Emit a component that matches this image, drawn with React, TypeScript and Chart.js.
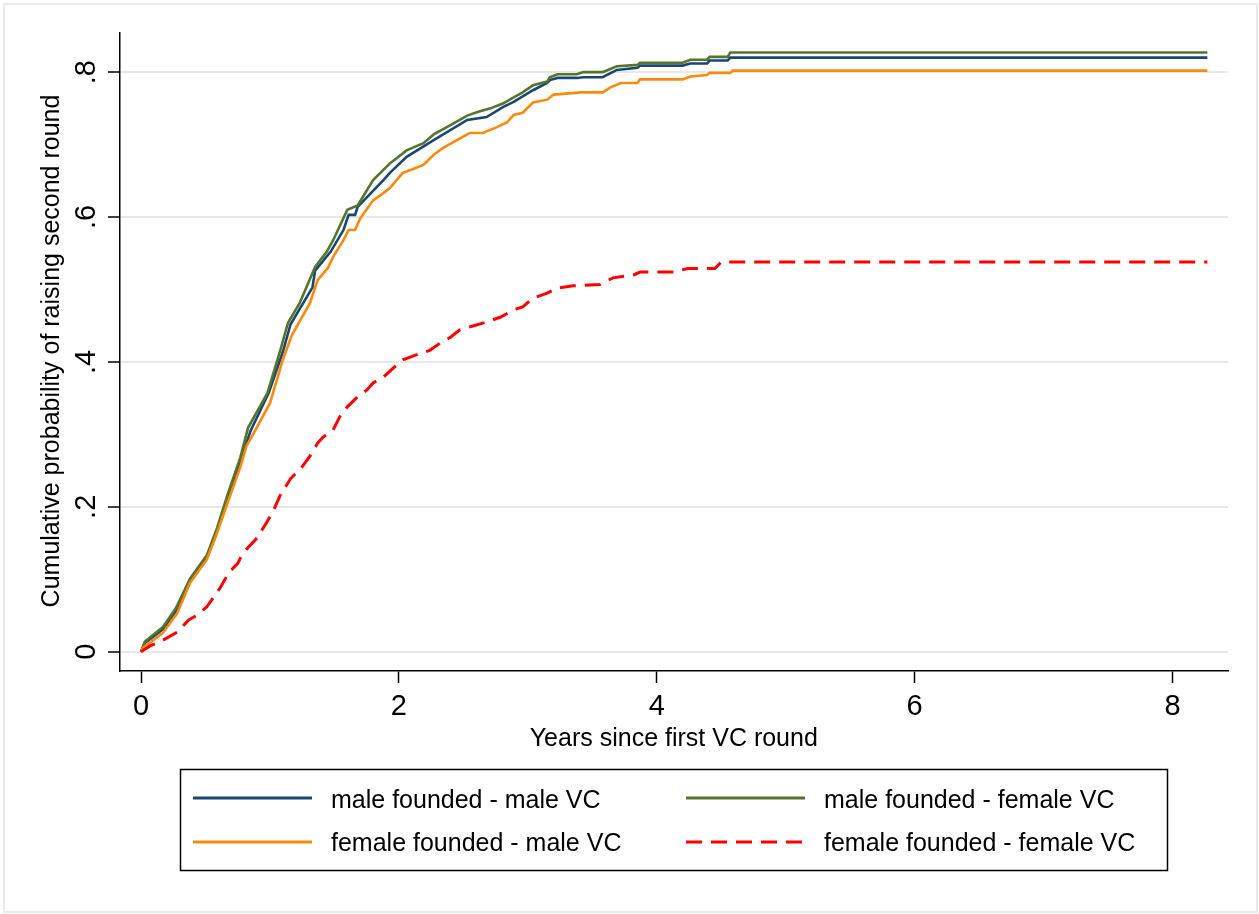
import React, { useEffect, useRef } from "react";
import { Chart, registerables } from "chart.js";

Chart.register(...registerables);

// ---- data ----
const X_TICKS = [0, 2, 4, 6, 8];
const X_TICK_LABELS = ["0", "2", "4", "6", "8"];
const Y_TICKS = [0, 0.2, 0.4, 0.6, 0.8];
const Y_TICK_LABELS = ["0", ".2", ".4", ".6", ".8"];

const X_TITLE = "Years since first VC round";
const Y_TITLE = "Cumulative probability of raising second round";

const SERIES_NAMES = [
  "male founded - male VC",
  "male founded - female VC",
  "female founded - male VC",
  "female founded - female VC",
];

const mmYears = [0, 0.03, 0.17, 0.27, 0.38, 0.51, 0.59, 0.67, 0.77, 0.85, 0.99, 1.10, 1.16, 1.33, 1.35, 1.47, 1.57, 1.61, 1.66, 1.68, 1.88, 1.93, 2.06, 2.27, 2.53, 2.68, 2.81, 2.89, 3.04, 3.15, 3.17, 3.23, 3.38, 3.43, 3.58, 3.69, 3.85, 3.87, 4.20, 4.26, 4.39, 4.41, 4.55, 4.57, 8.27];
const mmProb = [0, 0.012, 0.031, 0.056, 0.097, 0.129, 0.166, 0.211, 0.263, 0.305, 0.357, 0.414, 0.452, 0.503, 0.526, 0.552, 0.582, 0.603, 0.603, 0.614, 0.651, 0.661, 0.683, 0.706, 0.734, 0.738, 0.752, 0.759, 0.775, 0.785, 0.789, 0.792, 0.792, 0.793, 0.793, 0.803, 0.806, 0.809, 0.809, 0.812, 0.812, 0.816, 0.816, 0.820, 0.820];

const mfYears = [0, 0.03, 0.17, 0.27, 0.38, 0.51, 0.59, 0.67, 0.77, 0.83, 0.98, 1.08, 1.14, 1.23, 1.35, 1.44, 1.49, 1.60, 1.68, 1.80, 1.93, 2.06, 2.19, 2.27, 2.40, 2.53, 2.61, 2.71, 2.81, 2.89, 2.96, 3.04, 3.15, 3.17, 3.23, 3.38, 3.43, 3.58, 3.69, 3.85, 3.87, 4.20, 4.26, 4.39, 4.41, 4.55, 4.57, 8.27];
const mfProb = [0, 0.014, 0.034, 0.060, 0.101, 0.133, 0.171, 0.216, 0.268, 0.309, 0.357, 0.416, 0.454, 0.481, 0.531, 0.552, 0.568, 0.610, 0.616, 0.651, 0.674, 0.692, 0.702, 0.714, 0.727, 0.740, 0.745, 0.750, 0.757, 0.765, 0.772, 0.782, 0.787, 0.793, 0.797, 0.797, 0.800, 0.800, 0.808, 0.810, 0.813, 0.813, 0.817, 0.817, 0.821, 0.821, 0.827, 0.827];

const fmYears = [0, 0.02, 0.17, 0.28, 0.38, 0.51, 0.59, 0.67, 0.77, 0.82, 0.86, 1.00, 1.10, 1.17, 1.31, 1.37, 1.45, 1.49, 1.57, 1.61, 1.66, 1.70, 1.80, 1.88, 1.93, 2.03, 2.09, 2.19, 2.27, 2.34, 2.45, 2.55, 2.65, 2.76, 2.84, 2.89, 2.96, 3.04, 3.15, 3.20, 3.35, 3.41, 3.58, 3.64, 3.72, 3.85, 3.87, 4.20, 4.26, 4.39, 4.41, 4.57, 4.59, 8.27];
const fmProb = [0, 0.006, 0.026, 0.053, 0.095, 0.127, 0.164, 0.205, 0.255, 0.285, 0.297, 0.343, 0.403, 0.437, 0.481, 0.513, 0.530, 0.545, 0.568, 0.582, 0.582, 0.598, 0.623, 0.633, 0.640, 0.661, 0.665, 0.672, 0.686, 0.695, 0.706, 0.716, 0.716, 0.724, 0.731, 0.741, 0.744, 0.758, 0.762, 0.769, 0.771, 0.772, 0.772, 0.779, 0.785, 0.785, 0.790, 0.790, 0.794, 0.796, 0.799, 0.799, 0.802, 0.802];

const ffYears = [0, 0.07, 0.17, 0.28, 0.37, 0.44, 0.51, 0.55, 0.62, 0.68, 0.75, 0.79, 0.90, 0.98, 1.03, 1.08, 1.16, 1.24, 1.31, 1.37, 1.41, 1.49, 1.54, 1.60, 1.68, 1.75, 1.80, 1.88, 1.96, 2.03, 2.14, 2.24, 2.32, 2.40, 2.47, 2.58, 2.68, 2.79, 2.89, 2.96, 3.04, 3.15, 3.23, 3.35, 3.56, 3.66, 3.82, 3.87, 4.13, 4.24, 4.45, 4.50, 8.27];
const ffProb = [0, 0.008, 0.016, 0.027, 0.044, 0.051, 0.062, 0.072, 0.090, 0.109, 0.122, 0.136, 0.157, 0.180, 0.196, 0.216, 0.239, 0.253, 0.270, 0.288, 0.296, 0.306, 0.324, 0.338, 0.352, 0.361, 0.371, 0.379, 0.392, 0.403, 0.410, 0.416, 0.426, 0.434, 0.444, 0.450, 0.455, 0.462, 0.472, 0.476, 0.488, 0.495, 0.502, 0.505, 0.507, 0.516, 0.520, 0.524, 0.524, 0.529, 0.529, 0.538, 0.538];

// ---- styles ----
const COLORS = ["#1a476f", "#55752f", "#fb8a0c", "#ff0000"];
const DASH = [16, 9];
const FONT = '"Liberation Sans", Arial, Helvetica, sans-serif';
const W = 1259;
const H = 914;

const toPts = (xs: number[], ys: number[]) => xs.map((x, i) => ({ x, y: ys[i] }));

const textPlugin = {
  id: "stataText",
  beforeDraw(chart: any) {
    const ctx = chart.ctx;
    ctx.save();
    ctx.fillStyle = "#ffffff";
    ctx.fillRect(0, 0, W, H);
    ctx.strokeStyle = "#eaeaea";
    ctx.lineWidth = 2;
    ctx.strokeRect(4, 4, 1253, 908);
    ctx.restore();
  },
  afterDraw(chart: any) {
    const ctx = chart.ctx;
    const xs = chart.scales.x;
    const ys = chart.scales.y;
    ctx.save();
    ctx.fillStyle = "#000";
    // x tick labels
    ctx.font = `29px ${FONT}`;
    ctx.textAlign = "center";
    ctx.textBaseline = "alphabetic";
    X_TICKS.forEach((v, i) => {
      ctx.fillText(X_TICK_LABELS[i], xs.getPixelForValue(v), 715);
    });
    // y tick labels (rotated)
    Y_TICKS.forEach((v, i) => {
      ctx.save();
      ctx.translate(95, ys.getPixelForValue(v));
      ctx.rotate(-Math.PI / 2);
      ctx.fillText(Y_TICK_LABELS[i], 0, 0);
      ctx.restore();
    });
    // axis titles
    ctx.font = `25px ${FONT}`;
    ctx.fillText(X_TITLE, (xs.getPixelForValue(0) + xs.getPixelForValue(8)) / 2 + 17, 746);
    ctx.save();
    ctx.translate(59, 351);
    ctx.rotate(-Math.PI / 2);
    ctx.fillText(Y_TITLE, 0, 0);
    ctx.restore();

    // legend
    ctx.strokeStyle = "#000";
    ctx.lineWidth = 1.5;
    ctx.strokeRect(180.5, 769.5, 987, 101);
    const cols = [193, 686];
    const rows = [798, 842];
    const textBase = [808, 851];
    ctx.textAlign = "left";
    SERIES_NAMES.forEach((name, i) => {
      const c = i % 2;
      const r = Math.floor(i / 2);
      ctx.save();
      ctx.strokeStyle = COLORS[i];
      ctx.lineWidth = 3;
      if (i === 3) ctx.setLineDash(DASH);
      ctx.beginPath();
      ctx.moveTo(cols[c], rows[r]);
      ctx.lineTo(cols[c] + 119, rows[r]);
      ctx.stroke();
      ctx.restore();
      ctx.fillText(name, cols[c] + 138, textBase[r]);
    });
    ctx.restore();
  },
};

export default function App() {
  const ref = useRef<HTMLCanvasElement | null>(null);
  useEffect(() => {
    document.body.style.margin = "0";
    const canvas = ref.current!;
    const data = [
      toPts(mmYears, mmProb),
      toPts(mfYears, mfProb),
      toPts(fmYears, fmProb),
      toPts(ffYears, ffProb),
    ];
    const chart = new Chart(canvas, {
      type: "line",
      data: {
        datasets: data.map((d, i) => ({
          label: SERIES_NAMES[i],
          data: d,
          borderColor: COLORS[i],
          backgroundColor: COLORS[i],
          borderWidth: i === 3 ? 3 : 2.6,
          borderDash: i === 3 ? DASH : [],
          pointRadius: 0,
          tension: 0,
          fill: false,
          order: 3 - i,
        })),
      },
      options: {
        responsive: false,
        animation: false,
        events: [],
        layout: { padding: { left: 0, top: 33, right: 31, bottom: 0 } },
        plugins: { legend: { display: false }, tooltip: { enabled: false }, title: { display: false } },
        scales: {
          x: {
            type: "linear",
            min: -0.163,
            max: 8.43,
            afterBuildTicks: (s: any) => {
              s.ticks = X_TICKS.map((v) => ({ value: v }));
            },
            afterFit: (s: any) => {
              s.height = H - 671;
            },
            ticks: { display: false },
            grid: {
              drawOnChartArea: false,
              drawTicks: true,
              tickLength: 12,
              tickColor: "#000",
              tickWidth: 1.5,
            },
            border: { display: true, color: "#000", width: 1.5 },
          },
          y: {
            type: "linear",
            min: -0.0266,
            max: 0.854,
            afterBuildTicks: (s: any) => {
              s.ticks = Y_TICKS.map((v) => ({ value: v }));
            },
            afterFit: (s: any) => {
              s.width = 120;
            },
            ticks: { display: false },
            grid: {
              drawOnChartArea: true,
              color: "#e8e8e8",
              lineWidth: 2,
              drawTicks: true,
              tickLength: 12,
              tickColor: "#000",
              tickWidth: 1.5,
            },
            border: { display: true, color: "#000", width: 1.5 },
          },
        },
      },
      plugins: [textPlugin],
    });
    return () => chart.destroy();
  }, []);
  return (
    <div style={{ position: "absolute", left: 0, top: 0, width: W, height: H }}>
      <canvas ref={ref} width={W} height={H} style={{ display: "block", width: W, height: H }} />
    </div>
  );
}
